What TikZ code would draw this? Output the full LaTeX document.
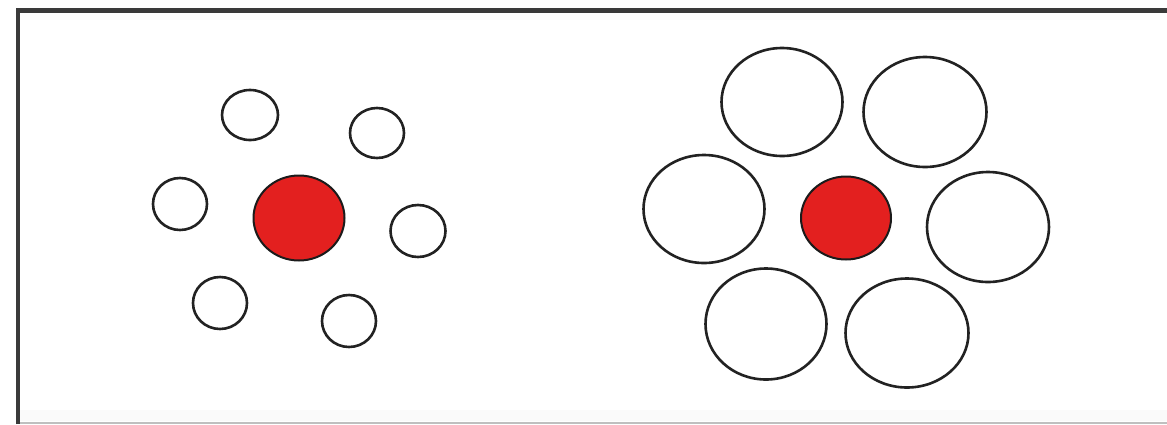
\documentclass[tikz,border=0pt]{standalone}
\usetikzlibrary{shapes.geometric}
\definecolor{redfill}{HTML}{E3201F}
\definecolor{ringcol}{HTML}{222222}
\definecolor{framecol}{HTML}{3A3A3A}
\begin{document}
\begin{tikzpicture}[x=1pt,y=-1pt,
  ring/.style={ellipse,draw=ringcol,line width=2.6pt,fill=white,inner sep=0pt},
  dotred/.style={ellipse,draw=ringcol!80!black,line width=2pt,fill=redfill,inner sep=0pt}]
\useasboundingbox (0,0) rectangle (1167,424);
\fill[white] (0,0) rectangle (1167,424);
\fill[black!2] (18,410) rectangle (1167,421);
\draw[black!25,line width=2pt] (18,423) -- (1167,423);
\draw[framecol,line width=4.5pt] (18,424) -- (18,10.5) -- (1167,10.5);
% left group
\node[ring,minimum width=56pt,minimum height=50pt] (l1) at (250,115) {};
\node[ring,minimum width=54pt,minimum height=50pt] (l2) at (377,133) {};
\node[ring,minimum width=54pt,minimum height=52pt] (l3) at (180,204) {};
\node[ring,minimum width=55pt,minimum height=52pt] (l4) at (418,231) {};
\node[ring,minimum width=54pt,minimum height=52pt] (l5) at (220,303) {};
\node[ring,minimum width=54pt,minimum height=52pt] (l6) at (349,321) {};
\node[dotred,minimum width=91pt,minimum height=85pt] (lc) at (299,218) {};
% right group
\node[ring,minimum width=121pt,minimum height=108pt] (r1) at (782,102) {};
\node[ring,minimum width=123pt,minimum height=110pt] (r2) at (925,112) {};
\node[ring,minimum width=121pt,minimum height=108pt] (r3) at (704,209) {};
\node[ring,minimum width=122pt,minimum height=110pt] (r4) at (988,227) {};
\node[ring,minimum width=121pt,minimum height=111pt] (r5) at (766,324) {};
\node[ring,minimum width=123pt,minimum height=109pt] (r6) at (907,333) {};
\node[dotred,minimum width=90pt,minimum height=83pt] (rc) at (846,218) {};
\end{tikzpicture}
\end{document}
